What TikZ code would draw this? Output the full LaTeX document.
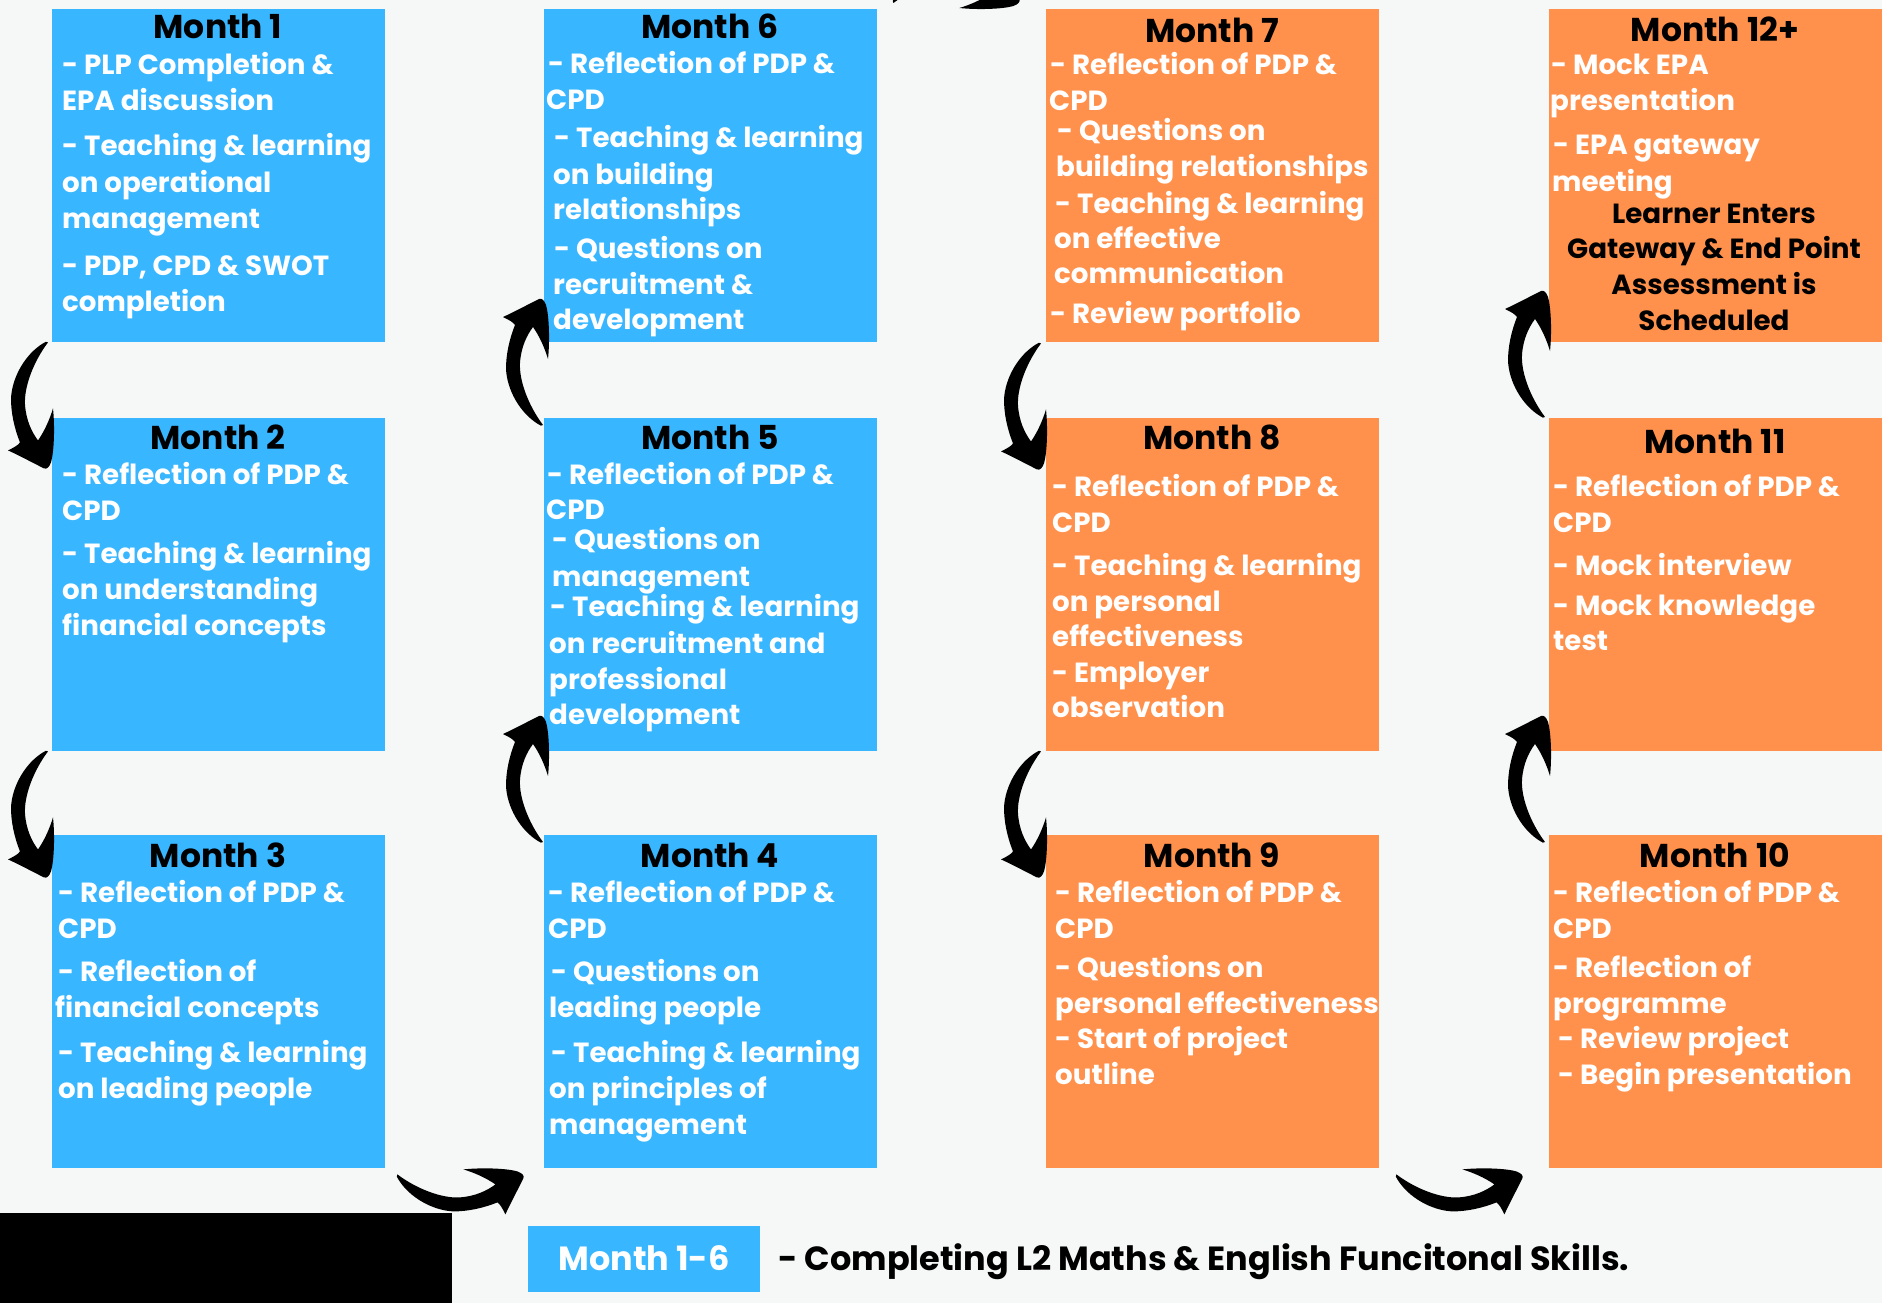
\documentclass[tikz,border=0pt]{standalone}
\usepackage{fontspec}
\setmainfont{Poppins}
\usetikzlibrary{calc}
\definecolor{cblue}{HTML}{38B6FF}
\definecolor{corange}{HTML}{FF914D}
\definecolor{cbg}{HTML}{F6F7F7}
\newcommand\bl[4]{\node[bodytxt] (#1) at (#2,#3) {#4};}
\newcommand\cl[4]{\node[ctrtxt] (#1) at (#2,#3) {#4};}
\tikzset{
  monthbox/.style={draw=none, inner sep=0pt, anchor=north west, minimum width=333pt, minimum height=333pt},
  bluebox/.style={monthbox, fill=cblue},
  orangebox/.style={monthbox, fill=corange},
  titletxt/.style={inner sep=0pt, anchor=base, yshift=-2pt, text=black, font=\bfseries\fontsize{33}{38}\selectfont},
  bodytxt/.style={inner sep=0pt, anchor=base west, yshift=-1pt, text=white, font=\bfseries\fontsize{27.7}{32}\selectfont},
  ctrtxt/.style={inner sep=0pt, anchor=base, yshift=-1pt, text=black, font=\bfseries\fontsize{27.7}{32}\selectfont},
  legtxt/.style={inner sep=0pt, font=\bfseries\fontsize{33.5}{38}\selectfont},
  brush/.pic={
    \fill[black] (0,-1) .. controls (20,14) and (45,23) .. (62,22)
      .. controls (78,21) and (90,15) .. (98,9)
      .. controls (88,2) and (76,-3) .. (66,-6)
      .. controls (85,-8) and (110,-7) .. (120,-4)
      .. controls (125,-2) and (127,0) .. (126,3)
      .. controls (120,15) and (113,28) .. (108,39)
      .. controls (105,33) and (103,29) .. (100,27)
      .. controls (85,33) and (70,36) .. (56,36)
      .. controls (35,35) and (12,22) .. (1,4)
      .. controls (-1,2) and (-1,0) .. cycle;
  }
}
\begin{document}
\begin{tikzpicture}[x=1pt,y=-1pt]
\useasboundingbox (0,0) rectangle (1882,1303);
\clip (0,0) rectangle (1882,1303);
\fill[cbg] (0,0) rectangle (1882,1303);

% boxes
\node[bluebox] (m1) at (52,9) {};
\node[bluebox] (m2) at (52,418) {};
\node[bluebox] (m3) at (52,835) {};
\node[bluebox] (m4) at (544,835) {};
\node[bluebox] (m5) at (544,418) {};
\node[bluebox] (m6) at (544,9) {};
\node[orangebox] (m7) at (1046,9) {};
\node[orangebox] (m8) at (1046,418) {};
\node[orangebox] (m9) at (1046,835) {};
\node[orangebox] (m10) at (1549,835) {};
\node[orangebox] (m11) at (1549,418) {};
\node[orangebox] (m12) at (1549,9) {};

% titles
\node[titletxt] (t1) at (218,37) {Month 1};
\node[titletxt] (t2) at (218,447) {Month 2};
\node[titletxt] (t3) at (218,865) {Month 3};
\node[titletxt] (t4) at (710,865) {Month 4};
\node[titletxt] (t5) at (710,447) {Month 5};
\node[titletxt] (t6) at (710,37) {Month 6};
\node[titletxt] (t7) at (1212,41) {Month 7};
\node[titletxt] (t8) at (1212,447) {Month 8};
\node[titletxt] (t9) at (1212,865) {Month 9};
\node[titletxt] (t10) at (1715,865) {Month 10};
\node[titletxt] (t11) at (1715,451) {Month 11};
\node[titletxt] (t12) at (1715,40) {Month 12+};

% Month 1
\bl{a1}{62}{74}{- PLP Completion \&}
\bl{a2}{62}{110}{EPA discussion}
\bl{a3}{62}{155}{- Teaching \& learning}
\bl{a4}{62}{191}{on operational}
\bl{a5}{62}{227}{management}
\bl{a6}{62}{274}{- PDP, CPD \& SWOT}
\bl{a7}{62}{310}{completion}
% Month 2
\bl{b1}{62}{483}{- Reflection of PDP \&}
\bl{b2}{62}{519}{CPD}
\bl{b3}{62}{562}{- Teaching \& learning}
\bl{b4}{62}{598}{on understanding}
\bl{b5}{62}{634}{financial concepts}
% Month 3
\bl{c1}{58}{901}{- Reflection of PDP \&}
\bl{c2}{58}{937}{CPD}
\bl{c3}{58}{980}{- Reflection of}
\bl{c4}{55}{1016}{financial concepts}
\bl{c5}{58}{1061}{- Teaching \& learning}
\bl{c6}{58}{1097}{on leading people}
% Month 4
\bl{d1}{548}{901}{- Reflection of PDP \&}
\bl{d2}{548}{937}{CPD}
\bl{d3}{551}{980}{- Questions on}
\bl{d4}{549}{1016}{leading people}
\bl{d5}{551}{1061}{- Teaching \& learning}
\bl{d6}{549}{1097}{on principles of}
\bl{d7}{549}{1133}{management}
% Month 5
\bl{e1}{547}{483}{- Reflection of PDP \&}
\bl{e2}{546}{518}{CPD}
\bl{e3}{552}{548}{- Questions on}
\bl{e4}{552}{585}{management}
\bl{e5}{550}{615}{- Teaching \& learning}
\bl{e6}{549}{652}{on recruitment and}
\bl{e7}{549}{688}{professional}
\bl{e8}{549}{723}{development}
% Month 6
\bl{f1}{548}{73}{- Reflection of PDP \&}
\bl{f2}{546}{109}{CPD}
\bl{f3}{554}{147}{- Teaching \& learning}
\bl{f4}{553}{183}{on building}
\bl{f5}{553}{218}{relationships}
\bl{f6}{554}{257}{- Questions on}
\bl{f7}{553}{293}{recruitment \&}
\bl{f8}{553}{328}{development}
% Month 7
\bl{g1}{1050}{74}{- Reflection of PDP \&}
\bl{g2}{1049}{110}{CPD}
\bl{g3}{1057}{140}{- Questions on}
\bl{g4}{1056}{175}{building relationships}
\bl{g5}{1055}{212}{- Teaching \& learning}
\bl{g6}{1054}{247}{on effective}
\bl{g7}{1054}{282}{communication}
\bl{g8}{1050}{322}{- Review portfolio}
% Month 8
\bl{h1}{1052}{495}{- Reflection of PDP \&}
\bl{h2}{1052}{531}{CPD}
\bl{h3}{1052}{574}{- Teaching \& learning}
\bl{h4}{1052}{610}{on personal}
\bl{h5}{1052}{645}{effectiveness}
\bl{h6}{1052}{681}{- Employer}
\bl{h7}{1052}{716}{observation}
% Month 9
\bl{i1}{1055}{901}{- Reflection of PDP \&}
\bl{i2}{1055}{937}{CPD}
\bl{i3}{1055}{976}{- Questions on}
\bl{i4}{1055}{1012}{personal effectiveness}
\bl{i5}{1055}{1047}{- Start of project}
\bl{i6}{1055}{1083}{outline}
% Month 10
\bl{j1}{1553}{901}{- Reflection of PDP \&}
\bl{j2}{1553}{937}{CPD}
\bl{j3}{1553}{976}{- Reflection of}
\bl{j4}{1553}{1012}{programme}
\bl{j5}{1558}{1047}{- Review project}
\bl{j6}{1558}{1083}{- Begin presentation}
% Month 11
\bl{k1}{1553}{495}{- Reflection of PDP \&}
\bl{k2}{1553}{531}{CPD}
\bl{k3}{1553}{574}{- Mock interview}
\bl{k4}{1553}{614}{- Mock knowledge}
\bl{k5}{1553}{649}{test}
% Month 12+
\bl{l1}{1551}{74}{- Mock EPA}
\bl{l2}{1550}{110}{presentation}
\bl{l3}{1553}{154}{- EPA gateway}
\bl{l4}{1552}{190}{meeting}
\cl{l5}{1714}{222}{Learner Enters}
\cl{l6}{1714}{257}{Gateway \& End Point}
\cl{l7}{1714}{293}{Assessment is}
\cl{l8}{1714}{329}{Scheduled}

% brush arrows
\pic[rotate=-90] at ($(m1.south west)+(-5,0)$) {brush};
\pic[rotate=-90] at ($(m2.south west)+(-5,0)$) {brush};
\pic at ($(m3.south east)+(12,7)$) {brush};
\pic[rotate=90,yscale=-1] at ($(m4.north west)+(-2,7)$) {brush};
\pic[rotate=90,yscale=-1] at ($(m5.north west)+(-2,7)$) {brush};
\pic[yscale=-1] at ($(m6.north east)+(16,-7)$) {brush};
\pic[rotate=-90] at ($(m7.south west)+(-6,1)$) {brush};
\pic[rotate=-90] at ($(m8.south west)+(-6,0)$) {brush};
\pic at ($(m9.south east)+(17,7)$) {brush};
\pic[rotate=90,yscale=-1] at ($(m10.north west)+(-5,7)$) {brush};
\pic[rotate=90,yscale=-1] at ($(m11.north west)+(-5,-1)$) {brush};

% legend
\node[fill=black, inner sep=0pt, anchor=north west, minimum width=452pt, minimum height=90pt] (blk) at (0,1213) {};
\node[fill=cblue, inner sep=0pt, anchor=north west, minimum width=232pt, minimum height=66pt] (lg) at (528,1226) {};
\node[legtxt, anchor=base, text=white] (lgt) at (644,1270) {Month 1-6};
\node[legtxt, anchor=base west, text=black] (lgd) at (778,1270) {- Completing L2 Maths \& English Funcitonal Skills.};
\end{tikzpicture}
\end{document}
